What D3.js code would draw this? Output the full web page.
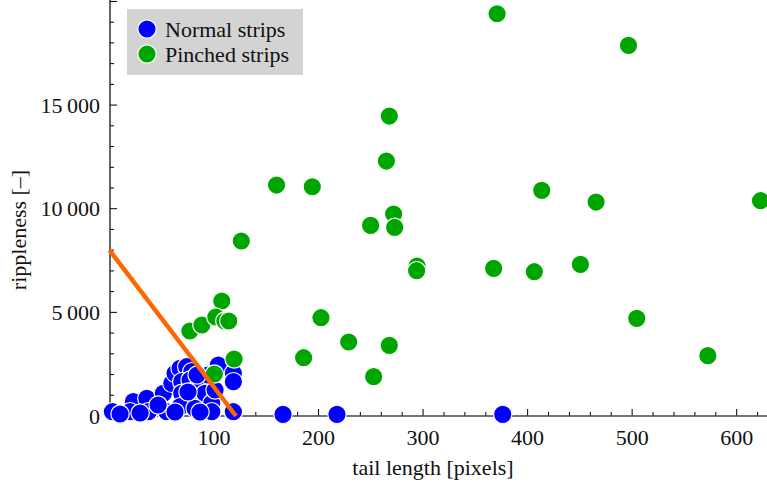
<!DOCTYPE html>
<html>
<head>
<meta charset="utf-8">
<script src="https://cdn.jsdelivr.net/npm/d3@7"></script>
<style>
  html, body { margin: 0; padding: 0; background: #fff; }
  svg { display: block; font-family: "Liberation Serif", "DejaVu Serif", serif; }
</style>
</head>
<body>
<svg id="chart" width="767" height="491"></svg>
<script>
// ---- data ----
const normalX = [2.8, 22.8, 19.7, 35.7, 37.2, 51.5, 54.8, 59.6, 62.7, 67.5, 73.9, 78.7, 69.1, 77.1, 69.1, 81.8, 88.2, 91.4, 75.4, 67.5, 81.8, 97.8, 104.1, 118.5, 118.5, 118.5, 97.8, 10.1, 29.3, 46.5, 62.7, 86.6, 101, 94.3, 83.8, 75.1, 166, 217.6, 376.2];
const normalY = [207, 690, 207, 854, 207, 1095, 207, 1577, 2060, 2301, 2378, 2137, 1655, 1737, 1095, 1254, 1577, 1095, 690, 449, 371, 613, 2460, 2060, 1655, 207, 207, 96, 145, 531, 193, 193, 1254, 1978, 1978, 1158, 82, 82, 82];

const pinchedX = [370.8, 496.5, 267.7, 264.9, 413.5, 465.5, 622.8, 271.8, 249.8, 272.8, 294.2, 293.8, 367.5, 406.4, 450.5, 504.4, 572.4, 228.8, 267.7, 252.7, 159.8, 194, 126.1, 202.3, 185.7, 107.4, 76.9, 88.4, 101.7, 110.3, 114.1, 119.2, 100.3];
const pinchedY = [19407, 17882, 14472, 12301, 10888, 10323, 10386, 9744, 9199, 9103, 7236, 7009, 7125, 6961, 7318, 4713, 2909, 3570, 3410, 1896, 11143, 11061, 8442, 4742, 2812, 5547, 4100, 4390, 4776, 4583, 4583, 2750, 2026];

const lineX = [0, 121];
const lineY = [8000, 0];

const xTicks = [100, 200, 300, 400, 500, 600];
const yTicks = [0, 5000, 10000, 15000];
const yTickLabels = ["0", "5\u2009000", "10\u2009000", "15\u2009000"];
const legendLabels = ["Normal strips", "Pinched strips"];
const colors = ["#0000ff", "#00a600"];

// ---- chart ----
const svg = d3.select("#chart");
const x = d3.scaleLinear().domain([0, 629]).range([109.5, 767]);
const y = d3.scaleLinear().domain([0, 20070]).range([416, 0]);
const FS = 22;

// y axis
const gy = svg.append("g");
gy.append("line").attr("x1", 110).attr("x2", 110).attr("y1", 416).attr("y2", 0)
  .attr("stroke", "#000").attr("stroke-width", 1.2);
d3.range(1000, 20001, 1000).forEach(v => {
  const major = v % 5000 === 0;
  gy.append("line").attr("x1", 110).attr("x2", 110 + (major ? 7 : 4))
    .attr("y1", y(v)).attr("y2", y(v)).attr("stroke", "#000").attr("stroke-width", 1);
});
yTicks.forEach((v, i) => {
  gy.append("text").attr("x", 100).attr("y", y(v)).attr("dy", "0.35em")
    .attr("text-anchor", "end").attr("font-size", FS).attr("fill", "#111")
    .text(yTickLabels[i]);
});

// x axis
const gx = svg.append("g");
d3.range(20, 621, 20).forEach(v => {
  const major = v % 100 === 0;
  gx.append("line").attr("x1", x(v)).attr("x2", x(v)).attr("y1", 416).attr("y2", 416 - (major ? 7 : 4))
    .attr("stroke", "#000").attr("stroke-width", 1);
});
gx.append("line").attr("x1", 109.5).attr("x2", 767).attr("y1", 416).attr("y2", 416)
  .attr("stroke", "#444").attr("stroke-width", 1.6);
xTicks.forEach(v => {
  gx.append("text").attr("x", x(v)).attr("y", 445).attr("text-anchor", "middle")
    .attr("font-size", FS).attr("fill", "#111").text(v);
});

// axis titles
svg.append("text").attr("x", 433).attr("y", 475).attr("text-anchor", "middle")
  .attr("font-size", FS).attr("fill", "#111").text("tail length [pixels]");
svg.append("text").attr("transform", "translate(26,230) rotate(-90)").attr("text-anchor", "middle")
  .attr("font-size", FS).attr("fill", "#111").text("rippleness [\u2013]");

// points
const pts = svg.append("g");
pts.selectAll("circle.n").data(normalX.map((v, i) => [v, normalY[i]])).join("circle")
  .attr("class", "n").attr("cx", d => x(d[0])).attr("cy", d => y(d[1])).attr("r", 9.2)
  .attr("fill", colors[0]).attr("stroke", "#fff").attr("stroke-width", 1.2);
pts.selectAll("circle.p").data(pinchedX.map((v, i) => [v, pinchedY[i]])).join("circle")
  .attr("class", "p").attr("cx", d => x(d[0])).attr("cy", d => y(d[1])).attr("r", 9.2)
  .attr("fill", colors[1]).attr("stroke", "#fff").attr("stroke-width", 1.2);

// orange line
svg.append("path")
  .datum(lineX.map((v, i) => [v, lineY[i]]))
  .attr("d", d3.line().x(d => x(d[0])).y(d => y(d[1])))
  .attr("stroke", "#ff6600").attr("stroke-width", 4.5).attr("fill", "none");

// legend
const lg = svg.append("g");
lg.append("rect").attr("x", 127).attr("y", 9).attr("width", 176).attr("height", 66).attr("fill", "#d3d3d3");
legendLabels.forEach((t, i) => {
  const cy = 29 + i * 25;
  lg.append("circle").attr("cx", 147).attr("cy", cy).attr("r", 9.2)
    .attr("fill", colors[i]).attr("stroke", "#fff").attr("stroke-width", 1.2);
  lg.append("text").attr("x", 165).attr("y", cy).attr("dy", "0.35em")
    .attr("font-size", FS).attr("fill", "#111").text(t);
});
</script>
</body>
</html>
